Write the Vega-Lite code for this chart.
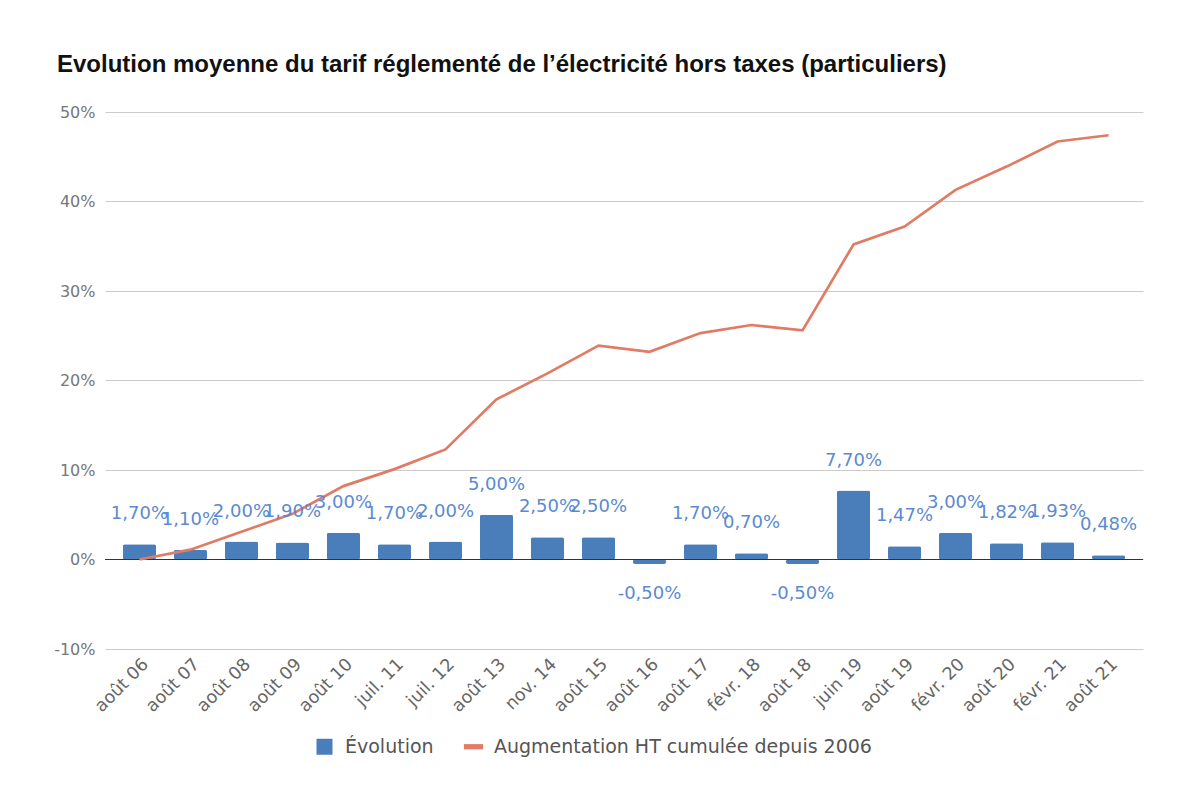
{
  "$schema": "https://vega.github.io/schema/vega-lite/v6.json",
  "autosize": {"type": "none"},
  "padding": {"left": 105, "top": 112, "right": 36, "bottom": 144},
  "width": 1038,
  "height": 537,
  "background": "white",
  "config": {
    "locale": {"number": {"decimal": ",", "thousands": " ", "grouping": [3], "currency": ["", " €"], "minus": "-"}},
    "view": {"stroke": null},
    "font": "DejaVu Sans"
  },
  "title": {
    "text": "Evolution moyenne du tarif réglementé de l’électricité hors taxes (particuliers)",
    "anchor": "start",
    "frame": "group",
    "dx": -48,
    "offset": 27,
    "font": "Liberation Sans",
    "fontSize": 24,
    "fontWeight": "bold",
    "color": "#111111"
  },
  "data": {
    "values": [
      {"date": "août 06", "evolution": 0.017, "cumul": 0.0},
      {"date": "août 07", "evolution": 0.011, "cumul": 0.011},
      {"date": "août 08", "evolution": 0.02, "cumul": 0.031},
      {"date": "août 09", "evolution": 0.019, "cumul": 0.051},
      {"date": "août 10", "evolution": 0.03, "cumul": 0.082},
      {"date": "juil. 11", "evolution": 0.017, "cumul": 0.101},
      {"date": "juil. 12", "evolution": 0.02, "cumul": 0.123},
      {"date": "août 13", "evolution": 0.05, "cumul": 0.179},
      {"date": "nov. 14", "evolution": 0.025, "cumul": 0.208},
      {"date": "août 15", "evolution": 0.025, "cumul": 0.239},
      {"date": "août 16", "evolution": -0.005, "cumul": 0.232},
      {"date": "août 17", "evolution": 0.017, "cumul": 0.253},
      {"date": "févr. 18", "evolution": 0.007, "cumul": 0.262},
      {"date": "août 18", "evolution": -0.005, "cumul": 0.256},
      {"date": "juin 19", "evolution": 0.077, "cumul": 0.352},
      {"date": "août 19", "evolution": 0.0147, "cumul": 0.372},
      {"date": "févr. 20", "evolution": 0.03, "cumul": 0.413},
      {"date": "août 20", "evolution": 0.0182, "cumul": 0.439},
      {"date": "févr. 21", "evolution": 0.0193, "cumul": 0.467},
      {"date": "août 21", "evolution": 0.0048, "cumul": 0.474}
    ]
  },
  "encoding": {
    "x": {
      "field": "date",
      "type": "nominal",
      "sort": null,
      "title": null,
      "scale": {"paddingInner": 0.35, "paddingOuter": 0.35},
      "axis": {
        "labelAngle": -45,
        "labelFontSize": 17.5,
        "labelColor": "#666666",
        "labelPadding": 6,
        "domain": false,
        "ticks": false,
        "grid": false
      }
    }
  },
  "layer": [
    {
      "mark": {"type": "bar", "cornerRadius": 2},
      "encoding": {
        "y": {
          "field": "evolution",
          "type": "quantitative",
          "title": null,
          "scale": {"domain": [-0.1, 0.5], "nice": false, "zero": false},
          "axis": {
            "values": [-0.1, 0, 0.1, 0.2, 0.3, 0.4, 0.5],
            "format": ".0%",
            "labelFontSize": 16,
            "labelColor": "#777777",
            "labelPadding": 10,
            "domain": false,
            "ticks": false,
            "gridColor": "#cccccc",
            "gridWidth": 1.2
          }
        },
        "color": {
          "datum": "Évolution",
          "type": "nominal",
          "scale": {
            "domain": ["Évolution", "Augmentation HT cumulée depuis 2006"],
            "range": ["#4a7ebb", "#e07b65"]
          },
          "legend": {
            "title": null,
            "orient": "none",
            "legendX": 210,
            "legendY": 625,
            "direction": "horizontal",
            "labelFontSize": 19,
            "labelColor": "#555555",
            "labelLimit": 0,
            "labelOffset": 11,
            "columnPadding": 29,
            "symbolSize": 256,
            "encode": {
              "symbols": {
                "update": {
                  "shape": {"signal": "datum.value === 'Évolution' ? 'square' : 'M-1.2,-0.33H1.2V0.33H-1.2Z'"},
                  "fill": {"signal": "datum.value === 'Évolution' ? '#4a7ebb' : '#e07b65'"},
                  "strokeWidth": {"value": 0}
                }
              }
            }
          }
        }
      }
    },
    {
      "mark": {"type": "rule", "color": "#333333", "strokeWidth": 1.2},
      "encoding": {"y": {"datum": 0, "type": "quantitative"}, "x": {}}
    },
    {
      "mark": {"type": "line", "strokeWidth": 2.7},
      "encoding": {
        "y": {"field": "cumul", "type": "quantitative"},
        "color": {"datum": "Augmentation HT cumulée depuis 2006", "type": "nominal"}
      }
    },
    {
      "transform": [{"filter": "datum.evolution >= 0"}],
      "mark": {"type": "text", "dy": -30, "fontSize": 18, "color": "#5b8ad0", "baseline": "middle"},
      "encoding": {
        "y": {"field": "evolution", "type": "quantitative"},
        "text": {"field": "evolution", "type": "quantitative", "format": ".2%"}
      }
    },
    {
      "transform": [{"filter": "datum.evolution < 0"}],
      "mark": {"type": "text", "dy": 30, "fontSize": 18, "color": "#5b8ad0", "baseline": "middle"},
      "encoding": {
        "y": {"field": "evolution", "type": "quantitative"},
        "text": {"field": "evolution", "type": "quantitative", "format": ".2%"}
      }
    }
  ]
}
